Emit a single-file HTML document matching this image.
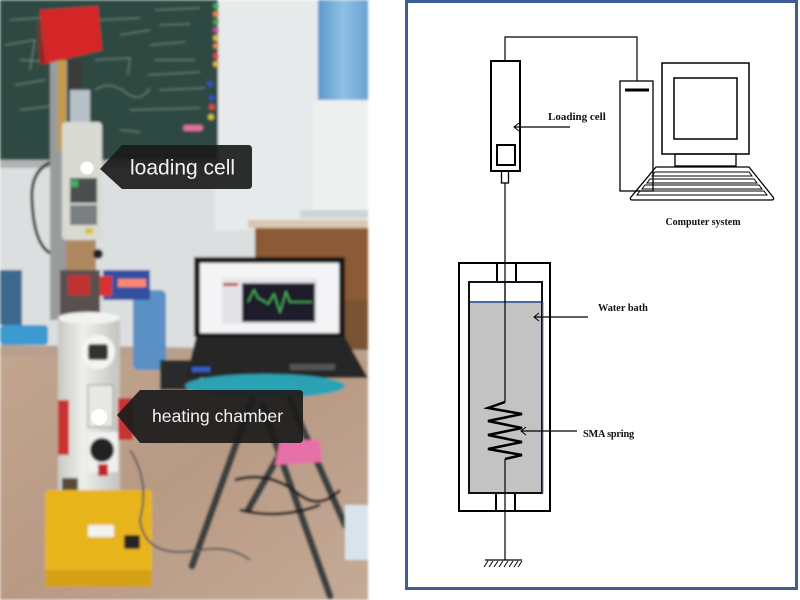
<!DOCTYPE html>
<html><head><meta charset="utf-8"><style>
html,body{margin:0;padding:0;background:#fff;}
svg{display:block;}
.lbl{font-family:"Liberation Serif",serif;font-weight:bold;fill:#111;}
.tag{font-family:"Liberation Sans",sans-serif;fill:#f2f2f2;}
</style></head><body>
<svg width="800" height="600" viewBox="0 0 800 600" xmlns="http://www.w3.org/2000/svg">
<defs>
<filter id="bl" x="-5%" y="-5%" width="110%" height="110%"><feGaussianBlur stdDeviation="1.2"/></filter>
<linearGradient id="floor" x1="0" y1="0" x2="1" y2="1">
<stop offset="0" stop-color="#c2a690"/><stop offset="0.5" stop-color="#b89a84"/><stop offset="1" stop-color="#c4aa96"/></linearGradient>
<linearGradient id="cyl" x1="0" y1="0" x2="1" y2="0">
<stop offset="0" stop-color="#c9c9c4"/><stop offset="0.4" stop-color="#eeeeea"/><stop offset="1" stop-color="#c4c4bf"/></linearGradient>
<linearGradient id="jug" x1="0" y1="0" x2="1" y2="0">
<stop offset="0" stop-color="#5d98cc"/><stop offset="0.5" stop-color="#8fc0e4"/><stop offset="1" stop-color="#6aa2d2"/></linearGradient>
</defs>

<!-- ===== PHOTO ===== -->
<g filter="url(#bl)">
<rect x="0" y="0" width="368" height="600" fill="#dcdfe0"/>
<!-- wall right -->
<rect x="215" y="0" width="153" height="230" fill="#e7eaeb"/>
<!-- chalkboard -->
<rect x="0" y="0" width="218" height="163" fill="#2d4a42"/>
<g stroke="#8fa89e" stroke-width="1" fill="none" opacity="0.7">
<path d="M10 20 L40 18 M5 45 L35 40 L30 70 M20 60 L60 62 L58 90 M15 85 L45 80 M100 20 L140 18 M120 35 L150 30 M95 60 L130 58 L128 75 M155 10 L200 8 M160 25 L190 24 M150 45 L185 42 M155 60 L195 60 M148 75 L200 72 M160 90 L205 88 M95 90 Q110 80 125 92 T150 88 M130 110 L200 108 M20 110 L60 105 M120 130 L140 132"/>
</g>
<!-- magnets -->
<g>
<circle cx="216" cy="6" r="3" fill="#3fa860"/><circle cx="216" cy="14" r="3" fill="#e08a40"/>
<circle cx="216" cy="22" r="3" fill="#4aa058"/><circle cx="216" cy="30" r="3" fill="#c050a0"/>
<circle cx="216" cy="38" r="3" fill="#d8c040"/><circle cx="216" cy="46" r="3" fill="#e08a40"/>
<circle cx="216" cy="56" r="3" fill="#d84848"/><circle cx="216" cy="64" r="3" fill="#e0b040"/>
<circle cx="210" cy="84" r="3" fill="#3050b8"/><circle cx="212" cy="98" r="3" fill="#3050b8"/>
<circle cx="212" cy="107" r="3" fill="#d84848"/><circle cx="211" cy="117" r="3" fill="#d8c040"/>
<rect x="183" y="125" width="20" height="6" rx="3" fill="#e070a0"/>
</g>
<!-- board ledge -->
<rect x="0" y="160" width="220" height="8" fill="#b0b4b4"/>
<!-- water jug & dispenser -->
<rect x="318" y="0" width="50" height="100" fill="url(#jug)"/>
<rect x="313" y="100" width="55" height="118" fill="#eef0f0"/>
<rect x="300" y="210" width="68" height="8" fill="#cfd3d4"/>
<!-- table -->
<rect x="248" y="220" width="120" height="8" fill="#d8c8b0"/>
<rect x="255" y="228" width="113" height="80" fill="#8c5a34"/>
<rect x="330" y="300" width="38" height="160" fill="#7a5232"/>
<rect x="300" y="395" width="68" height="50" fill="#a88060"/>
<rect x="300" y="445" width="68" height="40" fill="#3a302c"/>
<!-- floor -->
<path d="M0 345 L368 350 L368 600 L0 600 Z" fill="url(#floor)"/>
<path d="M0 345 L368 350 L368 360 L0 356 Z" fill="#b8a08e"/>
<!-- left blue items -->
<rect x="0" y="270" width="22" height="55" fill="#3a6a8e"/>
<rect x="0" y="325" width="48" height="20" rx="4" fill="#3a9ad0"/>
<!-- blue drum -->
<rect x="133" y="290" width="33" height="80" rx="6" fill="#5a90c4"/>
<rect x="160" y="360" width="40" height="30" fill="#2c2a2a"/>
<!-- cable loop -->
<path d="M60 160 Q30 165 32 200 Q34 250 55 255" stroke="#1a1a1a" stroke-width="3" fill="none"/>
<!-- pole -->
<rect x="50" y="60" width="17" height="260" fill="#9a9c9c"/>
<rect x="58" y="60" width="8" height="90" fill="#c89a48"/>
<rect x="68" y="60" width="14" height="35" fill="#3a3a3a"/>
<rect x="70" y="90" width="20" height="32" fill="#b8c0c8"/>
<!-- red top box -->
<path d="M40 10 L98 6 L102 50 L45 64 Z" fill="#d42828"/>
<path d="M37 14 L45 64 L40 64 Z" fill="#a01c1c"/>
<!-- loading cell device -->
<rect x="62" y="122" width="40" height="118" rx="4" fill="#dadad4"/>
<rect x="70" y="178" width="27" height="25" fill="#4a5050"/>
<rect x="71" y="180" width="7" height="7" fill="#40b060"/>
<rect x="70" y="205" width="27" height="20" fill="#7a8080"/>
<rect x="85" y="228" width="8" height="6" fill="#e0c030"/>
<!-- below device -->
<rect x="66" y="240" width="30" height="30" fill="#b08860"/>
<rect x="60" y="270" width="40" height="45" fill="#5a5050"/>
<rect x="68" y="275" width="22" height="20" fill="#c03030"/>
<circle cx="98" cy="254" r="5" fill="#202020"/>
<!-- red device -->
<rect x="103" y="270" width="47" height="30" fill="#3050a0"/>
<rect x="118" y="279" width="28" height="8" fill="#ff8870"/>
<rect x="100" y="276" width="12" height="20" fill="#d83030"/>
<!-- laptop -->
<rect x="194" y="257" width="151" height="80" fill="#151515"/>
<rect x="200" y="263" width="139" height="70" fill="#f4f4f6"/>
<rect x="222" y="278" width="95" height="46" fill="#e4e4e8"/>
<rect x="242" y="283" width="73" height="39" fill="#1a1a2a"/>
<path d="M248 302 L254 290 L258 298 L262 300 L268 304 L274 294 L280 312 L286 292 L290 302 L312 302" stroke="#50c060" stroke-width="1.3" fill="none"/>
<rect x="223" y="283" width="15" height="3" fill="#c03030"/>
<path d="M196 337 L345 337 L368 378 L186 378 Z" fill="#262628"/>
<rect x="192" y="367" width="18" height="5" fill="#3060c0"/>
<rect x="290" y="364" width="45" height="6" fill="#555"/>
<!-- stool -->
<ellipse cx="265" cy="386" rx="80" ry="12" fill="#2aa2b4"/>
<g stroke="#3a4040" stroke-width="7" stroke-linecap="round">
<line x1="252" y1="400" x2="192" y2="566"/>
<line x1="262" y1="405" x2="330" y2="596"/>
<line x1="290" y1="400" x2="345" y2="525"/>
<line x1="285" y1="445" x2="248" y2="510"/>
</g>
<path d="M235 480 Q270 470 300 495 Q320 510 340 490 M240 510 Q280 520 320 505" stroke="#1c1c1c" stroke-width="3" fill="none"/>
<path d="M280 440 L320 440 L322 462 L275 465 Z" fill="#e870a8"/>
<rect x="345" y="505" width="23" height="55" fill="#d8e4ec"/>
<!-- heating chamber -->
<rect x="58" y="315" width="62" height="185" rx="8" fill="url(#cyl)"/>
<ellipse cx="89" cy="318" rx="31" ry="6" fill="#f2f2ef"/>
<circle cx="98" cy="352" r="17" fill="#f4f4f2"/>
<rect x="88" y="344" width="20" height="16" rx="3" fill="#333"/>
<rect x="88" y="385" width="25" height="42" fill="#e8e8e4" stroke="#777" stroke-width="0.8"/>
<rect x="88" y="432" width="30" height="40" fill="#f0f0ee"/>
<circle cx="102" cy="450" r="12" fill="#222"/>
<rect x="98" y="464" width="10" height="12" fill="#c02828"/>
<rect x="58" y="400" width="11" height="55" fill="#c83030"/>
<rect x="118" y="398" width="15" height="42" fill="#c83030"/>
<rect x="62" y="478" width="16" height="15" fill="#5a4a3a"/>
<rect x="95" y="490" width="20" height="20" fill="#3a3030"/>
<!-- yellow base -->
<rect x="45" y="490" width="107" height="97" rx="4" fill="#e8b41c"/>
<rect x="45" y="570" width="107" height="17" fill="#d4a014"/>
<rect x="88" y="525" width="26" height="12" rx="2" fill="#f2f2ee"/>
<rect x="124" y="535" width="16" height="14" rx="2" fill="#2a2420"/>
<path d="M130 450 Q150 480 140 520 Q145 560 200 550 Q230 545 250 560" stroke="#555" stroke-width="2" fill="none"/>
</g>
<!-- photo tags -->
<path d="M100 169 L122 145 L248 145 Q252 145 252 149 L252 185 Q252 189 248 189 L122 189 Z" fill="#1b1b1b" fill-opacity="0.92"/>
<text class="tag" x="130" y="174.5" font-size="21">loading cell</text>
<circle cx="87" cy="168" r="6.5" fill="#fff"/>
<path d="M117 415 L140 390 L299 390 Q303 390 303 394 L303 439 Q303 443 299 443 L140 443 Z" fill="#1b1b1b" fill-opacity="0.92"/>
<text class="tag" x="152" y="422" font-size="17.6">heating chamber</text>
<circle cx="99" cy="417" r="8" fill="#fff"/>

<!-- ===== SCHEMATIC ===== -->
<rect x="406.5" y="1.5" width="390" height="587" fill="#fff" stroke="#3e5d96" stroke-width="3"/>
<g stroke="#000" fill="none">
<!-- wire -->
<polyline points="505,61 505,37 637,37 637,81" stroke-width="1.2"/>
<!-- loading cell -->
<rect x="491" y="61" width="29" height="110" stroke-width="2"/>
<rect x="497" y="145" width="18" height="20" stroke-width="2"/>
<rect x="501.5" y="171" width="7" height="12" stroke-width="1.3"/>
<line x1="505" y1="183" x2="505" y2="402" stroke-width="1.2"/>
<!-- loading cell arrow -->
<line x1="570" y1="127" x2="514" y2="127" stroke-width="1.2"/>
<polyline points="519,123 514,127 519,131" stroke-width="1"/>
<!-- tower -->
<rect x="620" y="81" width="33" height="110" stroke-width="1.3"/>
<line x1="625" y1="90" x2="649" y2="90" stroke-width="3"/>
<!-- monitor -->
<rect x="662" y="63" width="87" height="91" stroke-width="1.5"/>
<rect x="674" y="78" width="63" height="61" stroke-width="1.5"/>
<rect x="675" y="154" width="61" height="12" stroke-width="1.3"/>
<!-- keyboard base -->
<path d="M656 167 L749 167 L773 197 Q775 200 771 200 L633 200 Q629 200 631 197 Z" stroke-width="1.3"/>
<path d="M655 172 L749 172 L752 176 L652 176 Z" stroke-width="1"/>
<path d="M650 179 L754 179 L757 183 L647 183 Z" stroke-width="1"/>
<path d="M645 185 L759 185 L762 189 L642 189 Z" stroke-width="1"/>
<path d="M640 191 L764 191 L767 195 L637 195 Z" stroke-width="1"/>
<!-- outer housing -->
<rect x="459" y="263" width="91" height="248" stroke-width="2"/>
<rect x="497" y="263" width="19" height="19" stroke-width="2"/>
<rect x="496" y="493" width="19" height="18" stroke-width="2"/>
</g>
<!-- water -->
<rect x="469" y="302" width="73" height="191" fill="#c3c3c3"/>
<line x1="469" y1="302" x2="542" y2="302" stroke="#4a6aa0" stroke-width="2"/>
<rect x="469" y="282" width="73" height="211" fill="none" stroke="#111" stroke-width="2"/>
<line x1="543" y1="302" x2="543" y2="493" stroke="#7a8aa8" stroke-width="1"/>
<g stroke="#000" fill="none">
<line x1="505" y1="282" x2="505" y2="402" stroke-width="1.2"/>
<!-- spring -->
<polyline points="505,402 488,408 522,414 488,421 522,428 488,435 522,442 488,449 522,455 505,459" stroke-width="2.5" stroke-linejoin="miter"/>
<line x1="505" y1="459" x2="505" y2="560" stroke-width="1.2"/>
<!-- ground -->
<line x1="485" y1="560" x2="522" y2="560" stroke-width="1.3"/>
<g stroke-width="1">
<line x1="488" y1="561" x2="484" y2="567"/><line x1="493" y1="561" x2="489" y2="567"/>
<line x1="498" y1="561" x2="494" y2="567"/><line x1="503" y1="561" x2="499" y2="567"/>
<line x1="508" y1="561" x2="504" y2="567"/><line x1="513" y1="561" x2="509" y2="567"/>
<line x1="518" y1="561" x2="514" y2="567"/><line x1="522" y1="561" x2="518" y2="567"/>
</g>
<!-- water bath arrow -->
<line x1="588" y1="317" x2="534" y2="317" stroke-width="1.2"/>
<polyline points="539,313 534,317 539,321" stroke-width="1"/>
<!-- SMA arrow -->
<line x1="577" y1="431" x2="521" y2="431" stroke-width="1.2"/>
<polyline points="526,427 521,431 526,435" stroke-width="1"/>
</g>
<text class="lbl" x="548" y="120" font-size="11">Loading cell</text>
<text class="lbl" x="703" y="225" font-size="10" text-anchor="middle">Computer system</text>
<text class="lbl" x="598" y="311" font-size="10.3">Water bath</text>
<text class="lbl" x="583" y="437" font-size="10.3" letter-spacing="-0.2">SMA spring</text>
</svg>
</body></html>
